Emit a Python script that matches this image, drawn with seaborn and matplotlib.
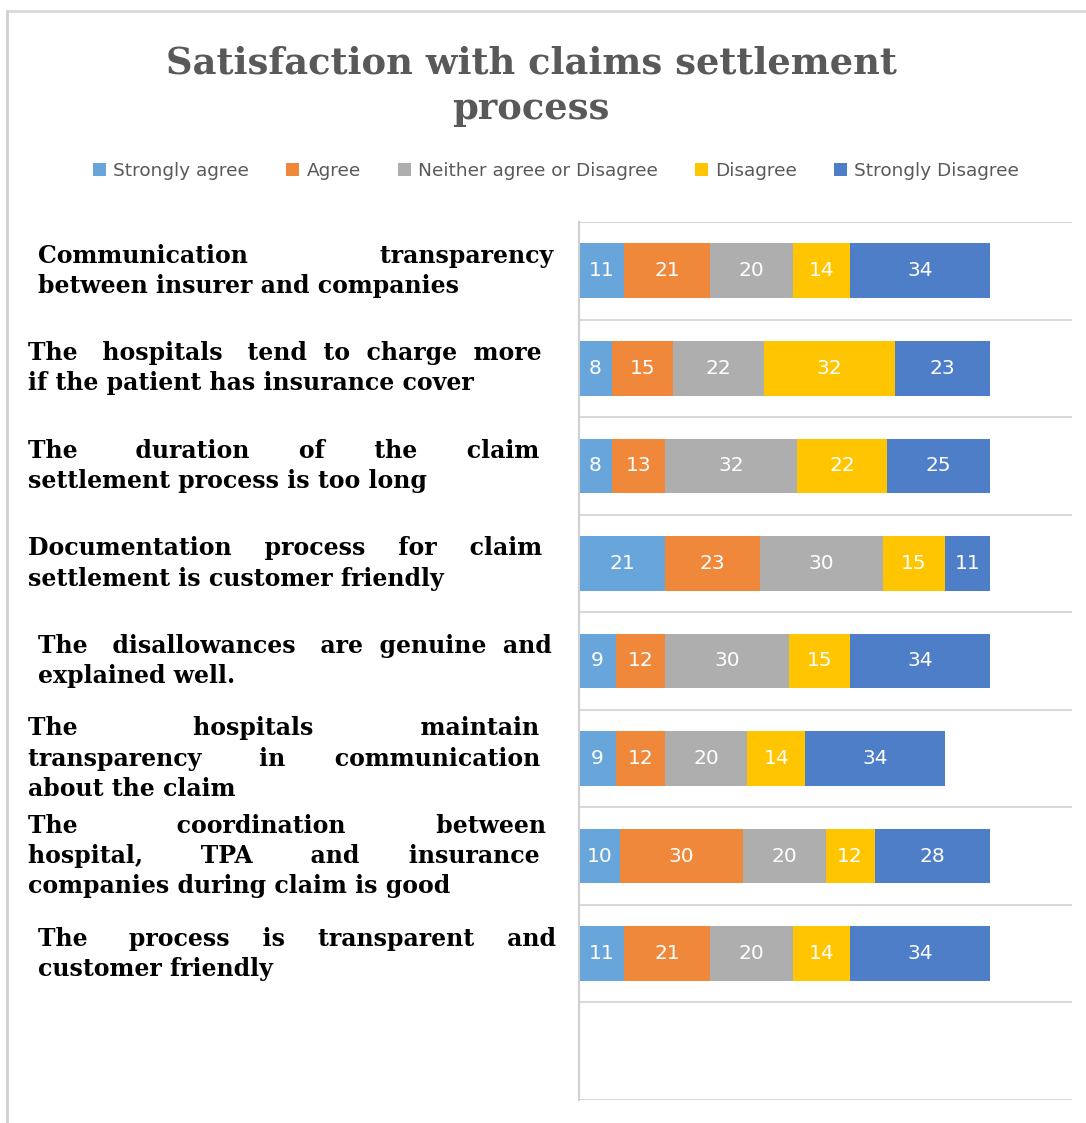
import numpy as np
import pandas as pd
import matplotlib
matplotlib.use("Agg")
import matplotlib.pyplot as plt
import seaborn as sns
from matplotlib.font_manager import FontProperties
from matplotlib.patches import Patch
from matplotlib.lines import Line2D
from matplotlib.transforms import blended_transform_factory

# ---------------- data ----------------
categories = [
    "Communication transparency between insurer and companies",
    "The hospitals tend to charge more if the patient has insurance cover",
    "The duration of the claim settlement process is too long",
    "Documentation process for claim settlement is customer friendly",
    "The disallowances are genuine and explained well.",
    "The hospitals maintain transparency in communication about the claim",
    "The coordination between hospital, TPA and insurance companies during claim is good",
    "The process is transparent and customer friendly",
]
label_lines = [
    ["Communication transparency", "between insurer and companies"],
    ["The hospitals tend to charge more", "if the patient has insurance cover"],
    ["The duration of the claim", "settlement process is too long"],
    ["Documentation process for claim", "settlement is customer friendly"],
    ["The disallowances are genuine and", "explained well."],
    ["The hospitals maintain", "transparency in communication", "about the claim"],
    ["The coordination between", "hospital, TPA and insurance", "companies during claim is good"],
    ["The process is transparent and", "customer friendly"],
]
series_names = ["Strongly agree", "Agree", "Neither agree or Disagree",
                "Disagree", "Strongly Disagree"]
strongly_agree = [11, 8, 8, 21, 9, 9, 10, 11]
agree = [21, 15, 13, 23, 12, 12, 30, 21]
neither = [20, 22, 32, 30, 30, 20, 20, 20]
disagree = [14, 32, 22, 15, 15, 14, 12, 14]
strongly_disagree = [34, 23, 25, 11, 34, 34, 28, 34]
title = "Satisfaction with claims settlement\nprocess"

colors = ["#67A5DB", "#EF883A", "#AEAEAE", "#FFC501", "#4F7EC9"]
label_indent_px = [38, 28, 28, 28, 38, 28, 28, 38]

df = pd.DataFrame({"category": categories})
for name, vals in zip(series_names, [strongly_agree, agree, neither, disagree, strongly_disagree]):
    df[name] = vals
cum = df[series_names].cumsum(axis=1)

# ---------------- figure ----------------
sns.set_style("white")
plt.rcParams["font.family"] = ["DejaVu Sans"]

W, H = 1086, 1123
fig = plt.figure(figsize=(W / 100, H / 100), dpi=100)
ax = fig.add_axes([579 / W, 1 - 1100 / H, (1072 - 579) / W, (1100 - 222) / H])

for j in reversed(range(len(series_names))):
    d = pd.DataFrame({"category": categories, "value": cum.iloc[:, j].values})
    sns.barplot(data=d, x="value", y="category", orient="h", order=categories,
                color=colors[j], saturation=1, width=0.56, errorbar=None,
                linewidth=0, ax=ax)

# value labels
for i in range(len(categories)):
    for j, name in enumerate(series_names):
        v = df.loc[i, name]
        ax.text(cum.iloc[i, j] - v / 2, i, str(v), ha="center", va="center",
                color="white", fontsize=14.5)

ax.set_xlim(0, 120)
ax.set_ylim(len(categories) + 0.5, -0.5)
ax.set_xticks([])
ax.set_yticks(range(len(categories)))
ax.set_yticklabels([])
ax.set_yticks(np.arange(-0.5, len(categories) + 1, 1), minor=True)
ax.tick_params(which="both", length=0)
ax.grid(axis="y", which="minor", color="#D9D9D9", lw=1.5)
ax.grid(axis="y", which="major", visible=False)
ax.grid(axis="x", visible=False)
ax.set_xlabel("")
ax.set_ylabel("")
for s in ["top", "right", "bottom"]:
    ax.spines[s].set_visible(False)
ax.spines["left"].set_color("#D0D0D0")
ax.spines["left"].set_linewidth(1.5)

# ---------------- category labels (justified) ----------------
renderer = fig.canvas.get_renderer()
fp = FontProperties(family="DejaVu Serif", weight="bold", size=17)


def text_w(s):
    w, h, d = renderer.get_text_width_height_descent(s, fp, ismath=False)
    return w


sp_w = text_w("a a") - text_w("aa")
target = 515


def justify(line):
    words = line.split()
    if len(words) < 2:
        return line
    base = text_w(" ".join(words))
    extra = max(0, int(round((target - base) / sp_w)))
    gaps = len(words) - 1
    out = words[0]
    for k in range(gaps):
        n = 1 + extra // gaps + (1 if k < extra % gaps else 0)
        out += " " * n + words[k + 1]
    return out


trans = blended_transform_factory(fig.transFigure, ax.transData)
for i, lines in enumerate(label_lines):
    txt = [justify(l) for l in lines[:-1]] + [lines[-1]]
    fig.text(label_indent_px[i] / W, i, "\n".join(txt), transform=trans,
             ha="left", va="center", fontproperties=fp, color="black",
             linespacing=1.33, multialignment="left")

# ---------------- title ----------------
fig.text(531 / W, 1 - 86 / H, title, ha="center", va="center",
         family="DejaVu Serif", weight="bold", fontsize=26.6,
         color="#595959", linespacing=1.35)

# ---------------- legend ----------------
handles = [Patch(facecolor=c, edgecolor="none", label=n) for c, n in zip(colors, series_names)]
fig.legend(handles=handles, loc="center", bbox_to_anchor=(556 / W, 1 - 171 / H),
           ncol=5, frameon=False, fontsize=13.3, handlelength=0.7,
           handleheight=0.7, handletextpad=0.4, columnspacing=2.0,
           labelcolor="#595959")

# ---------------- outer frame ----------------
fig.add_artist(Line2D([7 / W, 1], [1 - 11 / H, 1 - 11 / H], transform=fig.transFigure,
                      color="#D9D9D9", lw=2))
fig.add_artist(Line2D([7 / W, 7 / W], [0, 1 - 11 / H], transform=fig.transFigure,
                      color="#D0D0D0", lw=2))

fig.savefig("out.png", dpi=100)
